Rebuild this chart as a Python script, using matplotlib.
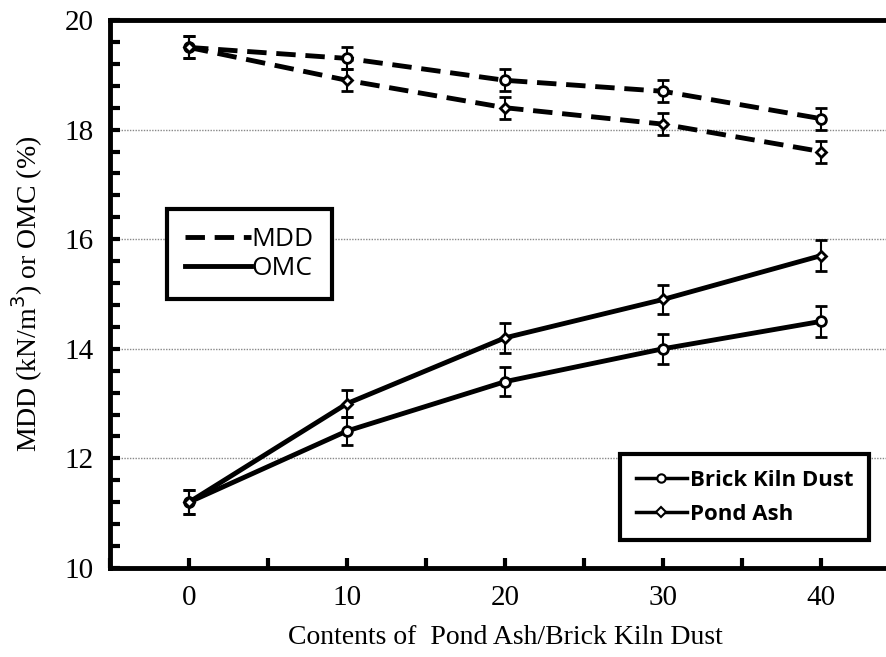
import numpy as np
import matplotlib.pyplot as plt
from matplotlib.lines import Line2D
from matplotlib.ticker import MultipleLocator

# Data
contents = [0, 10, 20, 30, 40]
mdd_bkd = [19.5, 19.3, 18.9, 18.7, 18.2]
mdd_pa = [19.5, 18.9, 18.4, 18.1, 17.6]
omc_bkd = [11.2, 12.5, 13.4, 14.0, 14.5]
omc_pa = [11.2, 13.0, 14.2, 14.9, 15.7]
err_mdd = [0.2, 0.2, 0.2, 0.2, 0.2]
err_omc = [0.22, 0.25, 0.27, 0.27, 0.28]

fig = plt.figure(figsize=(8.87, 6.57), dpi=100)
ax = fig.add_axes([0.124, 0.1355, 0.8906, 0.834])

lw = 3.5
dash = (0, (4, 2))
common = dict(color='black', lw=lw, mfc='white', mec='black', mew=2,
              ecolor='black', elinewidth=1.5, capsize=4.5, capthick=1.5)

ax.errorbar(contents, mdd_bkd, yerr=err_mdd, marker='o', ms=7, ls=dash, **common)
ax.errorbar(contents, mdd_pa, yerr=err_mdd, marker='D', ms=5.5, ls=dash, **common)
ax.errorbar(contents, omc_bkd, yerr=err_omc, marker='o', ms=7, ls='-', **common)
ax.errorbar(contents, omc_pa, yerr=err_omc, marker='D', ms=5.5, ls='-', **common)

ax.set_xlim(-5, 45)
ax.set_ylim(10, 20)
ax.xaxis.set_major_locator(MultipleLocator(10))
ax.xaxis.set_minor_locator(MultipleLocator(5))
ax.yaxis.set_major_locator(MultipleLocator(2))
ax.yaxis.set_minor_locator(MultipleLocator(0.4))
ax.tick_params(which='both', direction='in', width=3, length=7, labelsize=21,
               pad=12)
for lab in ax.get_xticklabels() + ax.get_yticklabels():
    lab.set_fontfamily('Liberation Serif')

for s in ['left', 'bottom', 'top', 'right']:
    ax.spines[s].set_linewidth(3.5)

ax.grid(axis='y', which='major', ls=(0, (1, 1)), color='#888888', lw=1)
ax.set_axisbelow(True)

ax.set_xlabel('Contents of  Pond Ash/Brick Kiln Dust', family='Liberation Serif',
              fontsize=20, labelpad=10)
ax.set_ylabel('MDD (kN/m$^3$) or OMC (%)', family='Liberation Serif',
              fontsize=20, labelpad=14)

# legend for line style
h1 = [Line2D([], [], color='black', lw=lw, ls=dash),
      Line2D([], [], color='black', lw=lw, ls='-')]
leg1 = ax.legend(h1, ['MDD', 'OMC'], loc='upper left', bbox_to_anchor=(0.055, 0.68),
                 prop={'family': 'Open Sans', 'size': 19}, fancybox=False,
                 edgecolor='black', framealpha=1, handlelength=2.5,
                 handletextpad=0.0, borderpad=0.7, labelspacing=0.15)
leg1.get_frame().set_linewidth(3)
ax.add_artist(leg1)

# legend for material
h2 = [Line2D([], [], color='black', lw=2.5, marker='o', ms=6, mfc='white', mew=1.5),
      Line2D([], [], color='black', lw=2.5, marker='D', ms=5, mfc='white', mew=1.5)]
leg2 = ax.legend(h2, ['Brick Kiln Dust', 'Pond Ash'], loc='lower right',
                 bbox_to_anchor=(0.975, 0.03),
                 prop={'family': 'Open Sans', 'size': 16, 'weight': 'bold'},
                 fancybox=False, edgecolor='black', framealpha=1,
                 handlelength=2.3, handletextpad=0.15, borderpad=0.7,
                 labelspacing=0.6)
leg2.get_frame().set_linewidth(3)

plt.savefig('out.png', dpi=100)
